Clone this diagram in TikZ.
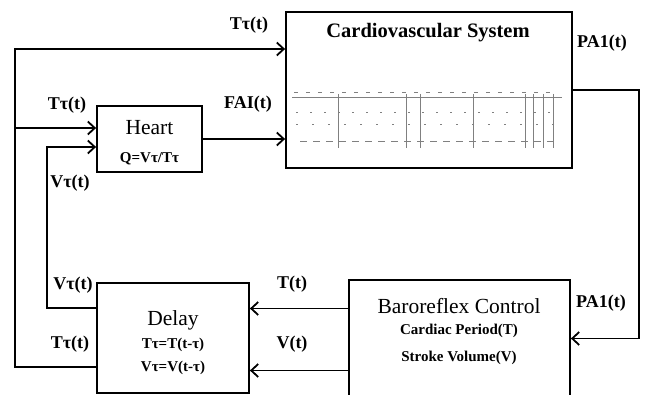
\documentclass[tikz,border=0pt]{standalone}
\usepackage{fontspec}
\setmainfont{Liberation Serif}
\usetikzlibrary{arrows.meta, positioning, calc}

\newcommand\subfont{\fontsize{15}{18}\selectfont\bfseries}

\begin{document}
\begin{tikzpicture}[
    x=1pt, y=-1pt,
    blk/.style  = {draw, line width=1.8pt, inner sep=0pt},
    txt/.style  = {align=center, inner sep=0pt,
                   font=\fontsize{21.5}{24}\selectfont},
    arr/.style  = {-{Straight Barb[length=7pt,width=13pt,line width=1.8pt]},
                   line width=1.8pt},
    lbl/.style  = {font=\fontsize{18}{20}\selectfont\bfseries, inner sep=0pt},
    ink/.style  = {draw=black!50, line width=0.5pt}
  ]
  \useasboundingbox (0,0) rectangle (645,395);

  %% Blocks
  \node[blk, minimum width=286pt, minimum height=156pt] (cv) at (429,90) {};
  \node[font=\fontsize{20.5}{24}\selectfont\bfseries] (cvtitle) at (428,33)
        {Cardiovascular System};

  \node[blk, minimum width=105pt, minimum height=66pt] (heart)
        at (149.5,139) {};
  \node[txt] (hearttext) at (149.5,143)
        {Heart\\[4pt]\subfont Q=Vτ/Tτ};

  \node[blk, minimum width=152pt, minimum height=110pt] (delay)
        at (173,338) {};
  \node[txt] (delaytext) at (173,342.5)
        {Delay\\[-1pt]\subfont Tτ=T(t-τ)\\[-1pt]\subfont Vτ=V(t-τ)};

  \node[blk, minimum width=221pt, minimum height=117pt] (baro)
        at (459.5,338.5) {};
  \node[txt] (barotext) at (459,332)
        {Baroreflex Control\\[-3pt]\subfont Cardiac Period(T)\\[3pt]%
         \subfont Stroke Volume(V)};

  %% Inset sketch of the vessel model
  \draw[ink] (292,97) -- (562,97);
  \foreach \x in {338,406,420,473,525,533,543,553}
    \draw[ink] (\x,94) -- (\x,148);
  \draw[ink, dash pattern=on 4pt off 8pt] (294,92) -- (556,92);
  \draw[ink, dash pattern=on 2pt off 12pt] (296,112) -- (556,112);
  \draw[ink, dash pattern=on 2pt off 14pt] (296,124) -- (556,124);
  \draw[ink, dash pattern=on 7pt off 6pt] (300,141) -- (556,141);

  %% Junctions
  \coordinate (tj) at (15,128);
  \coordinate (vj) at (47,147);
  \coordinate (pr) at (639,0);

  %% Connectors
  \draw[arr] ([yshift=-29pt]delay.west) -| (tj) |- ([yshift=41pt]cv.west);
  \draw[arr] (tj) -- (heart.west |- tj);
  \draw[arr] ([yshift=30pt]delay.west) -| (vj) -- (heart.west |- vj);
  \draw[arr] (heart.east) -- (heart.east -| cv.west);
  \draw[arr] (cv.east) -- (cv.east -| pr) |- (baro.east);
  \draw[arr] ([yshift=30pt]baro.west) -- ([yshift=30pt]baro.west -| delay.east);
  \draw[arr] ([yshift=-32pt]baro.west) -- ([yshift=-32pt]baro.west -| delay.east);

  %% Labels
  \node[lbl] (ltop)  at (249,25)  {Tτ(t)};
  \node[lbl] (lth)   at (67,105)  {Tτ(t)};
  \node[lbl] (lfai)  at (248,104) {FAI(t)};
  \node[lbl] (lvh)   at (70,183)  {Vτ(t)};
  \node[lbl] (lvd)   at (73,285)  {Vτ(t)};
  \node[lbl] (ltd)   at (70,344)  {Tτ(t)};
  \node[lbl] (lt)    at (292,284) {T(t)};
  \node[lbl] (lv)    at (292,344) {V(t)};
  \node[lbl] (lpa)   at (602,43)  {PA1(t)};
  \node[lbl] (lpb)   at (601,303) {PA1(t)};

\end{tikzpicture}
\end{document}
